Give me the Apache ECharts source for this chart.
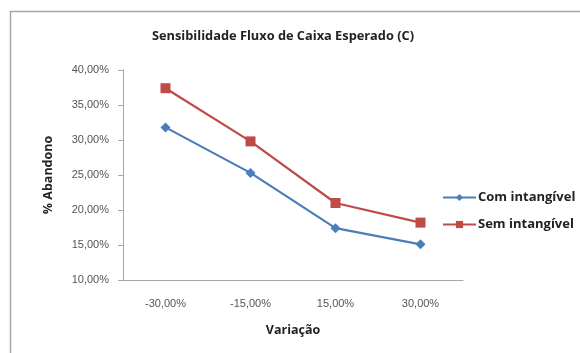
<!DOCTYPE html>
<html>
<head>
<meta charset="utf-8">
<script src="https://cdn.jsdelivr.net/npm/echarts@6/dist/echarts.min.js"></script>
<style>
  html, body { margin: 0; padding: 0; background: #fff; }
  #chart { width: 580px; height: 353px; }
</style>
</head>
<body>
<div id="chart"></div>
<script>
// Cash-flow sensitivity: abandonment rate (%) per variation scenario
const categories = ['-30,00%', '-15,00%', '15,00%', '30,00%'];
const comIntangivel = [31.8, 25.3, 17.4, 15.1];
const semIntangivel = [37.4, 29.8, 21.0, 18.2];
const yTicks = { min: 10, max: 40, step: 5 };

const fmtPct = v => v.toFixed(2).replace('.', ',') + '%';

const chart = echarts.init(document.getElementById('chart'), null, { renderer: 'canvas' });
chart.setOption({
  backgroundColor: '#ffffff',
  animation: false,
  textStyle: { fontFamily: 'Liberation Sans' },
  graphic: [{
    type: 'rect',
    shape: { x: 10.5, y: 11.5, width: 600, height: 400 },
    style: { fill: 'none', stroke: '#a6a6a6', lineWidth: 1.5 },
    z: -1
  }],
  title: {
    text: 'Sensibilidade Fluxo de Caixa Esperado (C)',
    left: 278, top: 25, textAlign: 'center',
    textStyle: { fontSize: 12.8, fontWeight: 'bold', color: '#222', fontFamily: 'Open Sans' }
  },
  legend: {
    orient: 'vertical',
    left: 442, top: 191, padding: 0,
    itemWidth: 33, itemHeight: 9, itemGap: 14,
    textStyle: { fontSize: 13, color: '#222', fontFamily: 'Open Sans', fontWeight: 'bold', padding: [0, 0, 0, -3] },
    data: ['Com intangível', 'Sem intangível']
  },
  grid: { left: 123, right: 117, top: 70, bottom: 73 },
  xAxis: {
    type: 'category',
    data: categories,
    boundaryGap: true,
    name: 'Variação',
    nameLocation: 'middle',
    nameGap: 44,
    nameTextStyle: { fontSize: 12.5, fontWeight: 'bold', color: '#222', fontFamily: 'Open Sans' },
    axisLine: { lineStyle: { color: '#a6a6a6', width: 1 } },
    axisTick: { show: false },
    axisLabel: { fontSize: 11, color: '#555', margin: 18 }
  },
  yAxis: {
    type: 'value',
    min: yTicks.min, max: yTicks.max, interval: yTicks.step,
    name: '% Abandono',
    nameLocation: 'middle',
    nameRotate: 90,
    nameGap: 68,
    nameTextStyle: { fontSize: 12.5, fontWeight: 'bold', color: '#222', fontFamily: 'Open Sans' },
    axisLine: { show: true, lineStyle: { color: '#a6a6a6', width: 1 } },
    axisTick: { show: true, length: 5, lineStyle: { color: '#a6a6a6' } },
    splitLine: { show: false },
    axisLabel: { fontSize: 11, color: '#555', margin: 14, formatter: v => fmtPct(v) }
  },
  series: [
    {
      name: 'Com intangível',
      type: 'line',
      data: comIntangivel,
      symbol: 'diamond',
      symbolSize: 10,
      lineStyle: { color: '#4a7ebb', width: 2.2 },
      itemStyle: { color: '#4a7ebb' }
    },
    {
      name: 'Sem intangível',
      type: 'line',
      data: semIntangivel,
      symbol: 'rect',
      symbolSize: 10,
      lineStyle: { color: '#be4b48', width: 2.2 },
      itemStyle: { color: '#be4b48' }
    }
  ]
});
</script>
</body>
</html>
